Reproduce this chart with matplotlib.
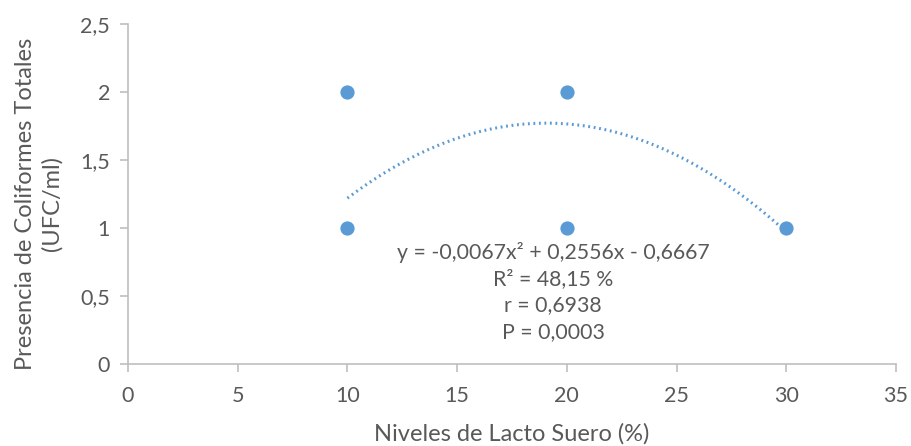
import numpy as np
import matplotlib
matplotlib.use("Agg")
import matplotlib.pyplot as plt
from matplotlib.ticker import FuncFormatter

plt.rcParams['font.family'] = ['Lato', 'DejaVu Sans']

# datos observados
lacto_suero = [10, 10, 20, 20, 30]
coliformes = [2, 1, 2, 1, 1]

# coeficientes de la linea de tendencia (polinomica de grado 2)
coef = [-0.0067, 0.2556, -0.6667]
ecuacion = "y = -0,0067x² + 0,2556x - 0,6667\nR² = 48,15 %\nr = 0,6938\nP = 0,0003"

azul = "#5B9BD5"
gris = "#BFBFBF"
texto = "#595959"

fig = plt.figure(figsize=(9.11, 4.46), dpi=100)
ax = fig.add_axes([0.1405, 0.1839, 0.8430, 0.7623])

xs = np.linspace(min(lacto_suero), max(lacto_suero), 200)
ax.plot(xs, np.polyval(coef, xs), color=azul, linewidth=2.2, linestyle=(0, (0.6, 1.2)),
        dash_capstyle="butt", zorder=2)
ax.scatter(lacto_suero, coliformes, s=105, color=azul, zorder=3, linewidths=0)

ax.set_xlim(0, 35)
ax.set_ylim(0, 2.5)
ax.set_xticks(range(0, 36, 5))
ax.set_yticks([0, 0.5, 1, 1.5, 2, 2.5])
ax.yaxis.set_major_formatter(FuncFormatter(lambda v, p: ("%g" % v).replace(".", ",")))

for s in ["top", "right"]:
    ax.spines[s].set_visible(False)
for s in ["left", "bottom"]:
    ax.spines[s].set_color(gris)
    ax.spines[s].set_linewidth(1.2)
ax.tick_params(axis="both", colors=gris, labelcolor=texto, labelsize=15.5, length=6, width=1.2)
ax.tick_params(axis="x", pad=10)
ax.tick_params(axis="y", pad=7)

ax.set_xlabel("Niveles de Lacto Suero (%)", fontsize=17, color=texto, labelpad=12)
fig.text(0.043, 0.543, "Presencia de Coliformes Totales\n(UFC/ml)", rotation=90,
         ha="center", va="center", fontsize=17, color=texto, linespacing=1.3)

fig.text(553 / 911, 1 - 292 / 446, ecuacion, ha="center", va="center",
         fontsize=15.3, color=texto, linespacing=1.38)

fig.savefig("out.png", dpi=100)
